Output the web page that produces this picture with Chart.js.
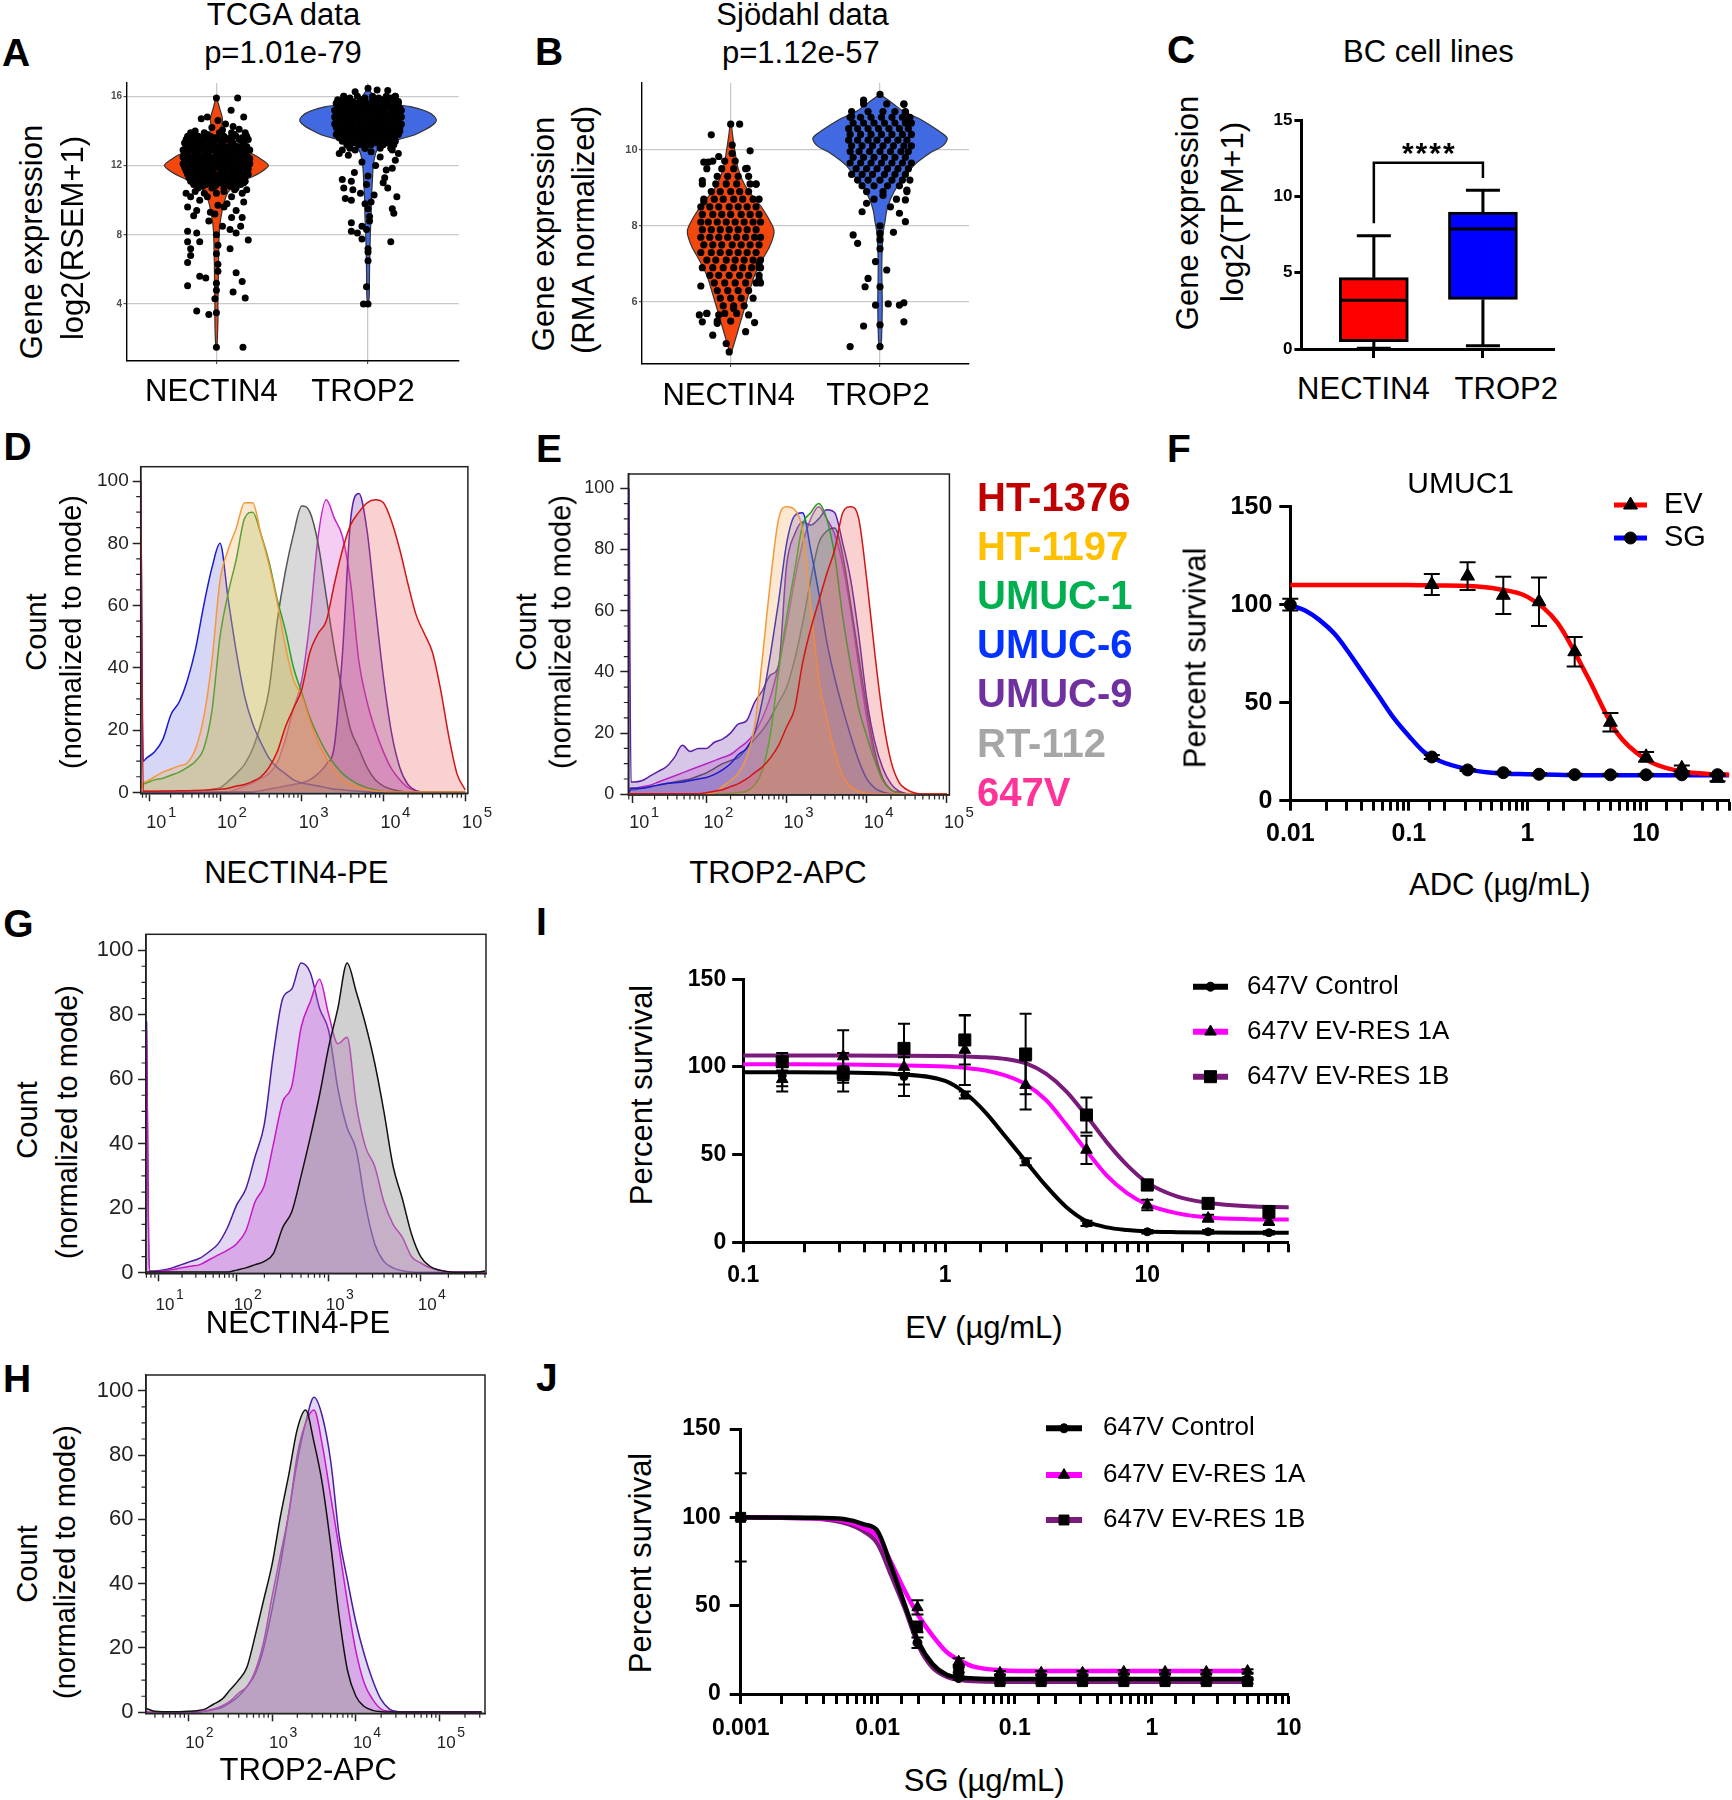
<!DOCTYPE html>
<html>
<head>
<meta charset="utf-8">
<title>NECTIN4 / TROP2 expression and ADC sensitivity</title>
<script src="https://cdn.jsdelivr.net/npm/chart.js@4.4.1/dist/chart.umd.min.js"></script>
<style>
html,body{margin:0;padding:0;background:#fff;}
#fig{position:relative;width:1732px;height:1800px;overflow:hidden;background:#fff;font-family:'Liberation Sans',Arial,Helvetica,sans-serif;color:#000;}
#fig canvas{position:absolute;}
.t{position:absolute;white-space:nowrap;line-height:1;}
</style>
</head>
<body>
<div id="fig"></div>
<script>
// ======================= DATA =======================
const geneCategories = ['NECTIN4', 'TROP2'];

// ---- Panel A: TCGA violin ----
const tcgaYTicks = [4, 8, 12, 16];
const tcgaNectinViolinY = [1.5,3,4,5,6,7,8,8.5,9,9.5,10,10.5,10.9,11.2,11.6,12.0,12.4,12.8,13.2,13.5,13.8,14.2,14.7,15.2,15.6,15.9];
const tcgaNectinViolinW = [0.004,0.01,0.01,0.012,0.013,0.015,0.018,0.022,0.03,0.04,0.055,0.08,0.13,0.2,0.29,0.343,0.29,0.21,0.13,0.08,0.05,0.035,0.04,0.025,0.012,0.003];
const tcgaTrop2ViolinY = [3.9,4.5,6,8,9,10,11,12,12.7,13.0,13.25,13.5,13.75,14.0,14.3,14.6,14.9,15.15,15.4,15.6,15.8,16.1,16.45];
const tcgaTrop2ViolinW = [0.003,0.008,0.01,0.015,0.02,0.022,0.028,0.035,0.05,0.07,0.1,0.2,0.3,0.36,0.42,0.45,0.43,0.38,0.28,0.13,0.06,0.03,0.003];
const tcgaNectinDotRows = [
 [13.9,[-0.17,-0.08,0.02,0.1,0.19]],
 [13.8,[-0.15,-0.06,0.03,0.12]],
 [13.7,[-0.19,-0.12,-0.04,0.05,0.13,0.2]],
 [13.6,[-0.16,-0.09,-0.01,0.09,0.17]],
 [13.5,[-0.2,-0.13,-0.06,0.0,0.07,0.15,0.21]],
 [13.4,[-0.18,-0.11,-0.04,0.03,0.1,0.17]],
 [13.3,[-0.21,-0.15,-0.09,-0.02,0.04,0.11,0.18]],
 [13.2,[-0.18,-0.11,-0.04,0.04,0.11,0.18]],
 [13.1,[-0.2,-0.14,-0.07,0.0,0.08,0.14,0.2]],
 [13.0,[-0.19,-0.13,-0.06,0.01,0.07,0.13,0.19]],
 [12.9,[-0.22,-0.16,-0.1,-0.03,0.03,0.1,0.16,0.22]],
 [12.8,[-0.19,-0.12,-0.05,0.02,0.09,0.17]],
 [12.7,[-0.21,-0.14,-0.07,0.0,0.06,0.13,0.19]],
 [12.6,[-0.2,-0.13,-0.06,0.01,0.07,0.12,0.18]],
 [12.5,[-0.22,-0.17,-0.1,-0.04,0.03,0.09,0.15,0.21]],
 [12.4,[-0.21,-0.16,-0.09,-0.02,0.04,0.11,0.17,0.22]],
 [12.3,[-0.2,-0.13,-0.06,0.01,0.07,0.14,0.2]],
 [12.2,[-0.19,-0.12,-0.05,0.02,0.08,0.14,0.2]],
 [12.1,[-0.22,-0.16,-0.09,-0.03,0.04,0.1,0.17,0.22]],
 [12.0,[-0.2,-0.13,-0.06,0.01,0.09,0.16]],
 [11.9,[-0.21,-0.14,-0.07,0.0,0.06,0.13,0.2]],
 [11.8,[-0.18,-0.11,-0.04,0.03,0.09,0.15,0.21]],
 [11.7,[-0.2,-0.15,-0.08,-0.02,0.05,0.11,0.18]],
 [11.6,[-0.17,-0.1,-0.03,0.04,0.12,0.19]],
 [11.5,[-0.19,-0.12,-0.05,0.02,0.09,0.16,0.21]],
 [11.4,[-0.16,-0.08,-0.01,0.06,0.13,0.19]],
 [11.3,[-0.18,-0.1,-0.03,0.04,0.11,0.18]],
 [11.2,[-0.14,-0.06,0.02,0.09,0.16]],
 [11.1,[-0.17,-0.09,-0.02,0.06,0.13,0.19]],
 [11.0,[-0.12,-0.04,0.03,0.11,0.18]],
 [10.9,[-0.15,-0.07,0.0,0.08,0.16]],
 [10.8,[-0.09,-0.01,0.09]],
 [10.7,[-0.12,-0.03,0.05,0.13]]
];
const tcgaNectinDotsExtra = [
 [0,15.9],[0.14,15.9],[0.097,15.2],[0.18,14.8],[-0.1,14.7],[-0.06,14.8],[0.01,14.6],[0.06,14.4],[0.11,14.25],[-0.03,14.2],[0.15,14.1],[-0.14,14.0],[0.04,14.05],
 [-0.17,10.2],[-0.11,10.0],[-0.06,10.2],[0.1,10.2],[0.17,10.4],[0.18,9.9],[-0.19,9.6],[-0.13,9.4],[0.13,9.4],[0.17,9.0],[-0.05,8.8],[0.16,8.5],[0.09,8.3],[0.04,8.5],
 [-0.19,8.2],[-0.13,8.1],[0.13,8.1],[-0.19,7.6],[-0.11,7.6],[0.21,7.7],[-0.17,7.2],[0.09,7.2],[-0.17,6.8],[-0.19,6.4],[0.01,6.3],[0.13,5.8],[-0.11,5.6],[-0.07,5.5],
 [-0.19,5.05],[0.17,5.3],[0.11,4.7],[0.19,4.35],[-0.13,3.6],[-0.05,3.4],[0,3.5],[0,1.5],[0.175,1.5],
 [0,10.4],[0.01,9.7],[-0.01,9.2],[0,8.0],[0.01,7.4],[0,6.9],[0.01,5.9],[0,5.2],[0,4.8],[-0.01,4.3],
 [-0.14,10.5],[0.05,10.5],[0.12,10.6],[-0.08,10.4],[0.2,10.6],[-0.2,10.4],[0.07,9.8],[-0.04,9.3],[0.1,9.0],[-0.15,9.1],[0.05,9.6]
];
const tcgaTrop2DotRows = [
 [16.0,[-0.16,-0.07,0.03,0.12,0.18]],
 [15.9,[-0.12,-0.02,0.07,0.15]],
 [15.8,[-0.2,-0.13,-0.05,0.03,0.1,0.17]],
 [15.7,[-0.17,-0.1,-0.02,0.06,0.13,0.2]],
 [15.6,[-0.21,-0.15,-0.08,-0.01,0.06,0.13,0.2]],
 [15.5,[-0.18,-0.11,-0.04,0.03,0.1,0.17]],
 [15.4,[-0.2,-0.14,-0.07,0.0,0.07,0.14,0.2]],
 [15.3,[-0.19,-0.12,-0.05,0.02,0.09,0.16,0.21]],
 [15.2,[-0.22,-0.16,-0.09,-0.02,0.05,0.11,0.18,0.22]],
 [15.1,[-0.18,-0.11,-0.04,0.03,0.1,0.17]],
 [15.0,[-0.21,-0.14,-0.07,0.0,0.07,0.14,0.21]],
 [14.9,[-0.19,-0.12,-0.05,0.02,0.08,0.14,0.2]],
 [14.8,[-0.22,-0.16,-0.09,-0.03,0.04,0.1,0.17,0.22]],
 [14.7,[-0.18,-0.11,-0.04,0.03,0.1,0.17]],
 [14.6,[-0.21,-0.14,-0.07,0.0,0.06,0.13,0.2]],
 [14.5,[-0.19,-0.12,-0.05,0.01,0.07,0.14,0.2]],
 [14.4,[-0.22,-0.16,-0.1,-0.03,0.03,0.1,0.16,0.22]],
 [14.3,[-0.18,-0.11,-0.04,0.03,0.1,0.17]],
 [14.2,[-0.21,-0.14,-0.07,0.0,0.07,0.14,0.21]],
 [14.1,[-0.17,-0.1,-0.03,0.04,0.11,0.18]],
 [14.0,[-0.2,-0.13,-0.06,0.01,0.08,0.15,0.21]],
 [13.9,[-0.18,-0.1,-0.03,0.04,0.1,0.17]],
 [13.8,[-0.21,-0.14,-0.07,0.0,0.06,0.13,0.2]],
 [13.7,[-0.16,-0.09,-0.02,0.05,0.12,0.18]],
 [13.6,[-0.19,-0.12,-0.05,0.02,0.09,0.16]],
 [13.5,[-0.14,-0.07,0.0,0.07,0.14]],
 [13.4,[-0.17,-0.1,-0.03,0.04,0.11,0.18]],
 [13.3,[-0.1,-0.02,0.06,0.13]],
 [13.2,[-0.14,-0.06,0.02,0.1,0.17]],
 [13.0,[-0.12,-0.02,0.08,0.15]]
];
const tcgaTrop2DotsExtra = [
 [0.06,16.37],[0,16.46],[-0.085,16.27],[0.13,16.33],[-0.16,16.0],[0.18,16.0],[-0.19,12.7],[-0.13,12.6],[-0.085,12.9],[0.16,12.9],[0.18,12.3],[0.16,11.85],
 [0.12,11.75],[-0.17,11.2],[-0.11,11.1],[0.11,11.3],[-0.16,10.7],[-0.1,10.6],[0.13,10.7],[-0.05,10.4],[0.19,10.2],[-0.15,10.1],[-0.11,10.0],[0.02,9.9],[-0.02,9.8],
 [0.16,9.5],[0.17,9.25],[0.01,9.06],[-0.04,8.5],[-0.11,8.7],[-0.01,8.3],[-0.11,8.2],[-0.07,8.1],[-0.04,7.75],[0.15,7.6],[0,6.5],[-0.01,5.0],[-0.03,4.0],[0,4.0],
 [0.08,12.5],[-0.04,12.2],[0.05,12.0],[-0.09,11.6],[0.1,11.0],[0.0,11.4],[0.04,10.3],[-0.01,10.9],[0.0,9.5],[0.01,8.8],[0,7.2],[0,7.0],[0.02,12.8],[-0.17,12.9],[0.2,12.7],[-0.02,13.0]
];

// ---- Panel B: Sjödahl violin ----
const sjoYTicks = [6, 8, 10];
const sjoNectinViolinY = [4.65,5.0,5.4,5.8,6.2,6.7,7.1,7.45,7.8,8.0,8.5,9.0,9.5,10.0,10.4,10.7];
const sjoNectinViolinW = [0.003,0.03,0.06,0.09,0.12,0.16,0.21,0.26,0.29,0.28,0.205,0.105,0.05,0.027,0.012,0.003];
const sjoTrop2ViolinY = [4.8,5.0,5.9,7.0,7.8,8.1,8.4,8.7,9.0,9.3,9.6,9.9,10.1,10.3,10.5,10.8,11.0,11.2,11.45];
const sjoTrop2ViolinW = [0.003,0.01,0.015,0.012,0.02,0.033,0.045,0.07,0.11,0.17,0.23,0.33,0.42,0.45,0.39,0.27,0.16,0.09,0.003];
const sjoNectinDotRows = [
 [9.9,[0.01]],
 [9.7,[-0.12,-0.04,0.03]],
 [9.5,[-0.16,-0.06,0.02,0.1]],
 [9.3,[-0.09,-0.02,0.05,0.12]],
 [9.1,[-0.19,-0.1,-0.03,0.04,0.13,0.17]],
 [8.9,[-0.13,-0.07,0.0,0.06,0.12]],
 [8.7,[-0.18,-0.11,-0.05,0.02,0.08,0.15,0.19]],
 [8.5,[-0.2,-0.14,-0.08,-0.01,0.05,0.11,0.17]],
 [8.3,[-0.19,-0.12,-0.06,0.0,0.07,0.13,0.19]],
 [8.1,[-0.2,-0.15,-0.09,-0.03,0.03,0.09,0.15,0.2]],
 [7.9,[-0.19,-0.13,-0.07,-0.01,0.05,0.11,0.17]],
 [7.7,[-0.2,-0.14,-0.08,-0.02,0.04,0.1,0.16,0.2]],
 [7.5,[-0.18,-0.12,-0.06,0.01,0.07,0.13,0.19]],
 [7.3,[-0.2,-0.13,-0.07,-0.01,0.05,0.11,0.17]],
 [7.1,[-0.16,-0.1,-0.03,0.03,0.09,0.15,0.2]],
 [6.9,[-0.19,-0.12,-0.05,0.02,0.08,0.14,0.19]],
 [6.7,[-0.14,-0.08,-0.01,0.06,0.12,0.19]],
 [6.5,[-0.11,-0.04,0.03,0.1,0.17]],
 [6.3,[-0.09,-0.02,0.05,0.12]],
 [6.1,[-0.07,0.0,0.07,0.15]],
 [5.9,[-0.05,0.02,0.09]],
 [5.7,[-0.16,-0.04,0.04]],
 [5.5,[-0.09,0.0]]
];
const sjoNectinDotsExtra = [
 [0,10.67],[0.06,10.67],[-0.13,10.39],[0.01,10.12],[0.13,9.97],[-0.18,9.67],[-0.15,9.67],[-0.08,9.82],[0.11,9.51],[0.17,9.09],[-0.19,9.19],[-0.18,8.63],
 [-0.2,6.42],[-0.21,5.66],[-0.19,5.48],[-0.16,5.7],[-0.12,5.13],[-0.08,5.66],[-0.03,4.91],[-0.01,4.69],[0.1,5.22],[0.12,5.66],[0.16,5.46],[-0.09,5.44],[0.02,5.83],
 [0.19,6.6],[0.2,6.9],[0.19,7.0],[0.2,6.5]
];
const sjoTrop2DotRows = [
 [11.2,[-0.11,0.045,0.16]],
 [11.0,[-0.19,-0.08,0.02,0.1,0.17]],
 [10.85,[-0.2,-0.13,-0.06,0.01,0.08,0.15,0.2]],
 [10.7,[-0.18,-0.11,-0.04,0.03,0.1,0.17,0.21]],
 [10.55,[-0.21,-0.15,-0.08,-0.01,0.06,0.13,0.19]],
 [10.4,[-0.2,-0.13,-0.06,0.01,0.08,0.15,0.21]],
 [10.25,[-0.21,-0.15,-0.08,-0.02,0.05,0.12,0.18]],
 [10.1,[-0.19,-0.12,-0.05,0.02,0.09,0.16,0.21]],
 [9.95,[-0.2,-0.14,-0.07,0.0,0.07,0.14,0.19]],
 [9.8,[-0.18,-0.11,-0.04,0.03,0.1,0.17]],
 [9.65,[-0.2,-0.13,-0.06,0.01,0.08,0.15,0.21]],
 [9.5,[-0.16,-0.09,-0.02,0.05,0.12,0.19]],
 [9.35,[-0.19,-0.12,-0.05,0.03,0.1,0.17]],
 [9.2,[-0.15,-0.08,0.0,0.08,0.15,0.2]],
 [9.05,[-0.12,-0.04,0.05,0.13]],
 [8.9,[-0.09,0.02,0.18]]
];
const sjoTrop2DotsExtra = [
 [-0.11,11.3],[0,11.45],[0.16,11.19],[0.17,10.98],[-0.19,10.87],[0.19,10.78],[0.18,8.94],[0.17,8.68],[0.11,8.7],[0.07,8.5],[-0.12,8.37],[-0.09,8.59],[0.13,8.33],
 [0.17,8.11],[0.09,7.83],[-0.18,7.76],[-0.15,7.54],[0,7.63],[0,7.4],[-0.03,7.06],[0.045,6.84],[-0.08,6.62],[-0.1,6.4],[0,6.4],[-0.03,5.92],[0.055,5.95],[0.13,5.92],
 [0.16,5.98],[0.16,5.48],[-0.11,5.37],[0,5.4],[-0.2,4.83],[0,4.83],[0.0,8.0],[0.0,7.8],[0.02,8.8],[-0.04,8.7]
];

// ---- Panel C: BC cell lines box plot ----
const cellYTicks = [0, 5, 10, 15];
const boxQ1 = [0.48, 3.25];
const boxQ3 = [4.67, 8.97];
const boxMedian = [3.2, 7.86];
const whiskerLow = [0.05, 0.22];
const whiskerHigh = [7.42, 10.4];
const sigBracket = [8.24, 12.2, 11.2];

// ---- Panels D/E: flow histograms ----
const cellLines = ['HT-1376', 'HT-1197', 'UMUC-1', 'UMUC-6', 'UMUC-9', 'RT-112', '647V'];
const cellLineTextColors = ['#c00000', '#ffc000', '#00b050', '#0433ff', '#7030a0', '#a6a6a6', '#ff3399'];
const flowYMajor = [0, 20, 40, 60, 80, 100];
const flowYMinor = [5,10,15,25,30,35,45,50,55,65,70,75,85,90,95];
const flowGridD = [1.03,1.06,1.1,1.2,1.3,1.4,1.5,1.6,1.7,1.8,1.9,2,2.1,2.2,2.3,2.4,2.5,2.6,2.7,2.8,2.9,3,3.1,3.2,3.3,3.4,3.5,3.6,3.7,3.8,3.9,4,4.1,4.2,4.3,4.4,4.5,4.6,4.7,4.8,4.9,5];
const dHT1376 = [100,0.3, 0.3,0.3,0.4,0.4,0.5,0.5,0.6,0.7,0.8,1, 1.3,2,2.5,3.5,5,8,13,21,27,33, 45,51,55,67,78,86,90,93,94,93, 87,78,67,57,51,45,33,18,6,0.8];
const dHT1197 = [0.5,3, 3.5,5,6.5,7.5,8.5,9.5,14,24,42,68, 78,85,93,93,83,73,61,47,36,31, 23,16,11,7,4,2.5,1.5,0.8,0.4,0.2, 0.1,0.1,0.1,0.1,0.1,0.1,0.1,0.1,0.1,0.1];
const dUMUC1 = [0.5,2.5, 3,4,4.5,5.5,6.5,8,10,14,26,50, 64,75,88,90,83,74,62,52,40,32, 24,18,13,9,6,4,2.5,1.5,0.8,0.3, 0.1,0.1,0.1,0.1,0.1,0.1,0.1,0.1,0.1,0.1];
const dUMUC6 = [100,10, 11,13,17,25,29,36,46,60,72,80, 62,45,31,22,16,11,8,6,4,3, 2.5,2,1.5,1,0.8,0.5,0.3,0.2,0.1,0.1, 0.1,0.1,0.1,0.1,0.1,0.1,0.1,0.1,0.1,0.1];
const dUMUC9 = [0.3,0.2, 0.2,0.2,0.2,0.2,0.2,0.2,0.2,0.2,0.2,0.2, 0.2,0.2,0.2,0.2,0.5,1,1.5,2,2.5,3, 4,6,9,15,45,88,96,84,60,37, 19,8,2.5,0.5,0.1,0.1,0.1,0.1,0.1,0.1];
const dRT112 = [0.3,0.3, 0.3,0.3,0.3,0.3,0.3,0.3,0.3,0.5,1,1.5, 3.5,6,9,14,22,33,55,71,83,92, 90,80,63,46,32,20,14,8,4,2, 1,0.4,0.1,0.1,0.1,0.1,0.1,0.1,0.1,0.1];
const d647V = [0.2,0.2, 0.2,0.2,0.2,0.2,0.2,0.2,0.2,0.2,0.2,0.2, 0.2,1,2,3,4.5,6,9.5,17,27,36, 55,82,94,88,82,67,42,29,20,13, 7.5,4,1.5,0.5,0.1,0.1,0.1,0.1,0.1,0.1];
const flowGridE = [1.035,1.06,1.1,1.2,1.3,1.4,1.5,1.6,1.7,1.8,1.9,2,2.1,2.2,2.3,2.4,2.5,2.6,2.7,2.8,2.9,3,3.1,3.2,3.3,3.4,3.5,3.6,3.7,3.8,3.9,4,4.1,4.2,4.3,4.4,4.5,4.6,4.7,4.8,4.9,5];
const eHT1376 = [0.5,0.2, 0.2,0.2,0.2,0.2,0.2,0.2,0.2,0.2,0.2,0.5, 1,1.5,2.5,3.5,5,7,9,12,16,22, 28,43,54,63,72,80,92,94,90,70, 46,25,11,4,1.5,0.4,0.1,0.1,0.1,0.1];
const eHT1197 = [0.1,0.1, 0.1,0.1,0.1,0.1,0.1,0.1,0.1,0.1,0.1,0.1, 0.5,2.5,4.5,7,12,22,45,70,90,94, 93,86,62,38,25,14,6,2.5,1,0.3, 0.1,0.1,0.1,0.1,0.1,0.1,0.1,0.1,0.1,0.1];
const eUMUC1 = [0.1,0.1, 0.1,0.1,0.1,0.1,0.1,0.1,0.1,0.1,0.1,0.1, 0.1,0.1,0.3,0.6,1,3,8,20,40,58, 73,88,92,95,90,78,58,42,28,19, 11,4.5,1.5,0.4,0.1,0.1,0.1,0.1,0.1,0.1];
const eUMUC6 = [0.5,2, 2,2,2.5,3,3.5,3.8,4,4.5,5,5.5, 6.5,8,10,13,15,20,31,46,63,82, 91,92,80,66,50,38,28,19,11,5, 2,0.7,0.2,0.1,0.1,0.1,0.1,0.1,0.1,0.1];
const eUMUC9 = [100,4, 4,4.5,6,7.5,9,12,16,14,15,15, 17,18,20,23,24,30,34,39,42,75, 85,89,88,90,93,92,82,70,52,31, 17,8.5,3.5,1,0.3,0.1,0.1,0.1,0.1,0.1];
const eRT112 = [1,1.5, 1.5,2,2.5,3,3.5,4,4.5,5,6,7, 8.5,10,11,12,15,18,21,25,30,35, 44,56,70,82,86,87,78,62,45,28, 14,5,1.5,0.5,0.1,0.1,0.1,0.1,0.1,0.1];
const e647V = [2,2, 2,2.5,3,4,5,6,7,8,9,10, 11,12,13,15,17,20,25,32,42,55, 70,82,90,94,90,85,75,60,42,25, 12,5,1.5,0.5,0.1,0.1,0.1,0.1,0.1,0.1];

// ---- Panels G/H: 647V control vs EV-resistant lines ----
const resLines = ['647V Control', '647V EV-RES 1A', '647V EV-RES 1B'];
const flowGridG = [1.02,1.05,1.1,1.2,1.3,1.4,1.5,1.6,1.7,1.8,1.9,2,2.1,2.2,2.3,2.4,2.5,2.6,2.7,2.8,2.9,3,3.1,3.2,3.3,3.4,3.5,3.6,3.7,3.8,3.9,4,4.1,4.2,4.3,4.4,4.5,4.6,4.7];
const gControl = [0.2,0.2, 0.2,0.2,0.2,0.2,0.2,0.2,0.2,0.2,0.2,0.8, 1.5,2.5,3.5,6,14,19,30,42,55,70, 82,96,87,77,65,50,33,23,12,5, 2,0.8,0.3,0.1,0.1,0.2,0.5];
const gRes1A = [75,0.3, 0.3,0.6,1,1.5,2,2.5,4,5.5,7,9, 13,22,27,40,53,58,76,84,91,80, 71,73,52,39,33,22,15,11,5,3, 1.5,0.8,0.3,0.1,0.1,0.1,0.1];
const gRes1B = [78,0.5, 0.5,0.8,1.5,2.5,3.5,4.5,6.5,9,14,21, 26,36,46,68,85,88,96,93,82,75, 57,45,38,21,9,3.5,1.5,0.6,0.2,0.1, 0.1,0.1,0.1,0.1,0.1,0.1,0.1];
const flowGridH = [1.5,1.6,1.7,1.8,1.9,2,2.1,2.2,2.3,2.4,2.5,2.6,2.7,2.8,2.9,3,3.1,3.2,3.3,3.4,3.5,3.6,3.7,3.8,3.9,4,4.1,4.2,4.3,4.4,4.5,4.6,4.7,4.8,4.9,5,5.1,5.2,5.3,5.4,5.5];
const hControl = [1.2,0.3,0.2,0.2,0.2,0.3, 0.5,1,2.5,4,7,10,14,24,35,46, 61,74,88,94,84,71,52,30,13,5, 1.8,0.6,0.2,0.1,0.1,0.1,0.1,0.1,0.1,0.1, 0.1,0.1,0.1,0.1,0.1];
const hRes1A = [0.2,0.2,0.2,0.2,0.2,0.2, 0.2,0.4,1,2,3.5,6,8,13,22,36, 49,62,80,90,94,83,67,51,34,19, 9,4,1,0.3,0.1,0.1,0.1,0.1,0.1,0.1, 0.1,0.1,0.1,0.1,0.1];
const hRes1B = [0.2,0.2,0.2,0.2,0.2,0.2, 0.2,0.3,0.8,1.5,3,5,8,12,20,32, 46,62,78,90,98,92,78,55,41,28, 18,10,4,1,0.2,0.1,0.1,0.1,0.1,0.1, 0.1,0.1,0.1,0.1,0.1];

// ---- Panel F: UMUC1 dose response ----
const survivalTicks = [0, 50, 100, 150];
const fDoses = [0.01, 0.156, 0.3125, 0.625, 1.25, 2.5, 5, 10, 20, 40];
const fEV = [null, 110.3, 114.6, 104.8, 101.5, 76, 40, 22.4, 16.5, 11.4];
const fEVErr = [0, 5.4, 7.1, 9.5, 12.4, 7.5, 4.7, 2.5, 1.5, 1.5];
const fSG = [100, 22.3, 15.7, 14.3, 13.5, 13.3, 13.2, 13.2, 13.2, 13.3];
const fSGErr = [3, 1, 0.5, 0.5, 0.5, 0.5, 0.5, 0.5, 0.5, 0.5];
const fCurveLogX = [-2,-1.875,-1.75,-1.625,-1.5,-1.375,-1.25,-1.125,-1,-0.875,-0.75,-0.5,-0.25,0,0.25,0.5,0.75,1,1.25,1.5,1.7];
const fCurveSG = [100,97,92,85,75,64,53,42,33,25,20.5,16,14,13.5,13.2,13,13,13,13,13,13];
const fCurveEV = [110,110,110,110,110,110,110,110,110,109.9,109.8,109.5,108,104,91,64,35,21,15.5,13.8,13.3];

// ---- Panel I: EV dose response ----
const iDoses = [0.156, 0.3125, 0.625, 1.25, 2.5, 5, 10, 20, 40];
const iCtrl = [95, 97, 94.5, 84, 46, 10.8, 6, 6, 5.5];
const iCtrlErr = [6, 11, 11, 2, 2, 1.5, 1, 1, 1];
const iRes1A = [93, 106, 100, 109.7, 89.7, 52.7, 21.3, 13.7, 11.8];
const iRes1AErr = [7, 15, 10, 20, 14, 8, 3, 2, 2];
const iRes1B = [103, 96.4, 110.6, 115.4, 107.4, 72.6, 32.7, 22.2, 17.5];
const iRes1BErr = [5, 4, 14, 14, 23, 10, 3, 2, 3];
const iCurveLogX = [-1,-0.75,-0.5,-0.25,0,0.1,0.2,0.3,0.4,0.5,0.6,0.7,0.8,0.9,1.0,1.15,1.3,1.5,1.7];
const iCurveCtrl = [97,97,96.8,96,92,85,74,60,46,32,20,12,8.5,7,6.2,5.8,5.6,5.5,5.5];
const iCurveRes1A = [101.5,101.5,101.4,101,100.3,99.5,98,95,90,81,67,52,38,28,21.5,16.5,14.2,13.2,13];
const iCurveRes1B = [106.5,106.5,106.5,106.4,106.2,106,105.5,104.5,102,96,86,72,57,44,34,26,22.5,20.5,20];

// ---- Panel J: SG dose response ----
const jDoses = [0.001, 0.0195, 0.039, 0.078, 0.156, 0.3125, 0.625, 1.25, 2.5, 5];
const jCtrl = [100, 29, 9, 8.5, 8.5, 8.5, 8.5, 8.5, 8.5, 8.5];
const jCtrlErr = [25, 3, 1, 0.5, 0.5, 0.5, 0.5, 0.5, 0.5, 0.5];
const jRes1A = [100, 49, 18.3, 12, 12, 12, 12.5, 12.5, 12.5, 13];
const jRes1AErr = [0, 4, 2, 1, 1, 1, 1, 1, 1, 1];
const jRes1B = [100, 38, 13.6, 7, 7, 7, 7, 7, 7, 7];
const jRes1BErr = [0, 3, 1.5, 1, 1, 1, 1, 1, 1, 1];
const jCurveLogX = [-3,-2.5,-2.25,-2.1,-2.0,-1.9,-1.8,-1.7,-1.6,-1.5,-1.4,-1.3,-1.1,-0.8,0,0.7];
const jCurveCtrl = [100,99.8,99,96,92,72,50,29,17,11,9.3,8.8,8.5,8.5,8.5,8.5];
const jCurveRes1A = [100,99.5,98,94,89,74,58,44,33,24,19,15.5,13.5,13,13,13];
const jCurveRes1B = [100,99.5,97,92,85,67,48,27,15,10,8,7.3,7,7,7,7];

// ======================= HELPERS =======================
const fig = document.getElementById('fig');
const FONT = "'Liberation Sans', Arial, Helvetica, sans-serif";
Chart.defaults.font.family = FONT;
Chart.defaults.color = '#000';
Chart.defaults.animation = false;

function addText(str, x, baseline, size, o = {}) {
  const d = document.createElement('div');
  d.className = 't'; d.textContent = str;
  d.style.fontSize = size + 'px';
  d.style.fontWeight = o.bold ? '700' : '400';
  if (o.color) d.style.color = o.color;
  if (o.ls) d.style.letterSpacing = o.ls;
  d.style.top = (baseline - 0.8466 * size) + 'px';
  d.style.left = x + 'px';
  const al = o.align || 'center';
  if (al === 'center') d.style.transform = 'translateX(-50%)';
  else if (al === 'right') d.style.transform = 'translateX(-100%)';
  fig.appendChild(d);
}
function addVText(str, cx, cy, size, o = {}) {
  const d = document.createElement('div');
  d.className = 't'; d.textContent = str;
  d.style.fontSize = size + 'px';
  d.style.fontWeight = o.bold ? '700' : '400';
  d.style.left = cx + 'px'; d.style.top = cy + 'px';
  d.style.transform = 'translate(-50%,-50%) rotate(-90deg)';
  fig.appendChild(d);
}

function makeChart(box, m, config) {
  const [x0, y0, x1, y1] = box;
  const cl = Math.round(x0 - m.l), ct = Math.round(y0 - m.t);
  const cr = Math.round(x1 + m.r), cb = Math.round(y1 + m.b);
  const W = cr - cl, H = cb - ct;
  const L = x0 - cl, T = y0 - ct, R = cr - x1, B = cb - y1;
  const c = document.createElement('canvas');
  c.width = W; c.height = H;
  c.style.left = cl + 'px'; c.style.top = ct + 'px';
  c.style.width = W + 'px'; c.style.height = H + 'px';
  fig.appendChild(c);
  const o = config.options;
  o.responsive = false; o.maintainAspectRatio = false; o.animation = false; o.devicePixelRatio = 1; o.events = [];
  o.layout = { padding: { left: 0, top: T, right: R, bottom: 0 }, autoPadding: false };
  o.plugins = Object.assign({ legend: { display: false }, tooltip: { enabled: false } }, o.plugins || {});
  o.scales.x.afterFit = s => { s.height = B; s.paddingLeft = 0; s.paddingRight = 0; };
  o.scales.y.afterFit = s => { s.width = L; s.paddingTop = 0; s.paddingBottom = 0; };
  return new Chart(c, config);
}

const framePlugin = {
  id: 'frame',
  afterDraw(chart) {
    const { ctx, chartArea: a } = chart;
    ctx.save(); ctx.strokeStyle = '#222'; ctx.lineWidth = 1.5;
    ctx.strokeRect(a.left, a.top, a.right - a.left, a.bottom - a.top);
    ctx.restore();
  }
};
function minorTickPlugin(xMinor, yMinor, len) {
  return {
    id: 'minorTicks',
    afterDraw(chart) {
      const { ctx, chartArea: a, scales: { x, y } } = chart;
      ctx.save(); ctx.strokeStyle = '#222'; ctx.lineWidth = 1.2; ctx.beginPath();
      xMinor.forEach(v => { const px = x.getPixelForValue(v); if (px < a.left - 0.5 || px > a.right + 0.5) return; ctx.moveTo(px, a.bottom); ctx.lineTo(px, a.bottom + len); });
      yMinor.forEach(v => { const py = y.getPixelForValue(v); ctx.moveTo(a.left, py); ctx.lineTo(a.left - len, py); });
      ctx.stroke(); ctx.restore();
    }
  };
}
// "10" with a raised exponent, FlowJo style, drawn at the scale's own tick positions
function decadeLabelPlugin(items, o) {
  return {
    id: 'decadeLabels',
    afterDraw(chart) {
      const { ctx, chartArea: a, scales: { x } } = chart;
      ctx.save(); ctx.fillStyle = '#222'; ctx.textBaseline = 'alphabetic'; ctx.textAlign = 'left';
      items.forEach(([v, e]) => {
        const left = x.getPixelForValue(v) - 3;
        ctx.font = o.base + 'px ' + FONT;
        ctx.fillText('10', left, a.bottom + o.dy);
        const w = ctx.measureText('10').width;
        ctx.font = o.exp + 'px ' + FONT;
        ctx.fillText(String(e), left + w + 1.5, a.bottom + o.dy - o.raise);
      });
      ctx.restore();
    }
  };
}
function decadeMinor(decPos, min, max) {
  const keys = Object.keys(decPos).map(Number).sort((a, b) => a - b);
  const out = [];
  for (let i = -1; i < keys.length; i++) {
    let a, b;
    if (i === -1) { b = decPos[keys[0]]; a = b - (decPos[keys[1]] - decPos[keys[0]]); }
    else if (i === keys.length - 1) { a = decPos[keys[i]]; b = a + (decPos[keys[i]] - decPos[keys[i - 1]]); }
    else { a = decPos[keys[i]]; b = decPos[keys[i + 1]]; }
    for (let k = 2; k <= 9; k++) { const v = a + Math.log10(k) * (b - a); if (v >= min && v <= max) out.push(v); }
  }
  return out;
}
const errorBarPlugin = {
  id: 'errorBars',
  afterDatasetsDraw(chart) {
    const ctx = chart.ctx;
    chart.data.datasets.forEach((ds, i) => {
      if (!ds.errors) return;
      const meta = chart.getDatasetMeta(i);
      const xs = chart.scales[meta.xAxisID], ys = chart.scales[meta.yAxisID];
      const cap = ds.errCap || 7;
      ctx.save(); ctx.strokeStyle = '#000'; ctx.lineWidth = 2;
      ds.data.forEach((p, j) => {
        const e = ds.errors[j];
        if (!e || p.y == null) return;
        const x = xs.getPixelForValue(p.x);
        const yt = ys.getPixelForValue(p.y + e), yb = ys.getPixelForValue(p.y - e);
        ctx.beginPath();
        ctx.moveTo(x, yb); ctx.lineTo(x, yt);
        ctx.moveTo(x - cap, yt); ctx.lineTo(x + cap, yt);
        ctx.moveTo(x - cap, yb); ctx.lineTo(x + cap, yb);
        ctx.stroke();
      });
      ctx.restore();
    });
  }
};
function legendPlugin(cfg) {
  return {
    id: 'pageLegend',
    afterDraw(chart) {
      const ctx = chart.ctx;
      const ox = parseFloat(chart.canvas.style.left), oy = parseFloat(chart.canvas.style.top);
      ctx.save();
      cfg.items.forEach(it => {
        const y = it.y - oy;
        ctx.strokeStyle = it.color; ctx.lineWidth = cfg.lineWidth; ctx.lineCap = 'butt';
        ctx.beginPath(); ctx.moveTo(cfg.x1 - ox, y); ctx.lineTo(cfg.x2 - ox, y); ctx.stroke();
        ctx.fillStyle = '#000'; ctx.strokeStyle = '#000'; ctx.lineWidth = 1;
        Chart.helpers.drawPoint(ctx, { pointStyle: it.style, radius: it.r, rotation: 0, borderWidth: 1 }, (cfg.x1 + cfg.x2) / 2 - ox, y);
        ctx.fillStyle = '#000'; ctx.font = cfg.font; ctx.textBaseline = 'middle'; ctx.textAlign = 'left';
        ctx.fillText(it.text, cfg.tx - ox, y);
      });
      ctx.restore();
    }
  };
}
function boxWhiskerPlugin() {
  return {
    id: 'boxWhisker',
    afterDatasetsDraw(chart) {
      const { ctx, scales: { x, y } } = chart;
      ctx.save(); ctx.strokeStyle = '#000'; ctx.lineWidth = 3; ctx.lineCap = 'butt';
      [1, 2].forEach((cv, i) => {
        const px = x.getPixelForValue(cv), half = 33, cap = 17;
        const yq1 = y.getPixelForValue(boxQ1[i]), yq3 = y.getPixelForValue(boxQ3[i]);
        const ylo = y.getPixelForValue(whiskerLow[i]), yhi = y.getPixelForValue(whiskerHigh[i]);
        const ymed = y.getPixelForValue(boxMedian[i]);
        ctx.beginPath();
        ctx.moveTo(px, yq3); ctx.lineTo(px, yhi);
        ctx.moveTo(px - cap, yhi); ctx.lineTo(px + cap, yhi);
        ctx.moveTo(px, yq1); ctx.lineTo(px, ylo);
        ctx.moveTo(px - cap, ylo); ctx.lineTo(px + cap, ylo);
        ctx.moveTo(px - half, ymed); ctx.lineTo(px + half, ymed);
        ctx.stroke();
      });
      ctx.lineWidth = 2.5; ctx.beginPath();
      ctx.moveTo(x.getPixelForValue(1), y.getPixelForValue(sigBracket[0]));
      ctx.lineTo(x.getPixelForValue(1), y.getPixelForValue(sigBracket[1]));
      ctx.lineTo(x.getPixelForValue(2), y.getPixelForValue(sigBracket[1]));
      ctx.lineTo(x.getPixelForValue(2), y.getPixelForValue(sigBracket[2]));
      ctx.stroke();
      ctx.restore();
    }
  };
}

function violinPoints(cx, ys, ws) {
  const pts = [];
  for (let i = 0; i < ys.length; i++) pts.push({ x: cx + ws[i], y: ys[i] });
  for (let i = ys.length - 1; i >= 0; i--) pts.push({ x: cx - ws[i], y: ys[i] });
  pts.push({ x: pts[0].x, y: pts[0].y });
  return pts;
}
function dotPoints(cx, rows, extra) {
  const pts = [];
  rows.forEach(([y, dxs]) => dxs.forEach(dx => pts.push({ x: cx + dx, y })));
  extra.forEach(([dx, y]) => pts.push({ x: cx + dx, y }));
  return pts;
}

function violinChart(box, m, cfg) {
  const datasets = [];
  cfg.violins.forEach((v, i) => {
    datasets.push({ type: 'line', data: violinPoints(i + 1, v.y, v.w), borderColor: '#333', borderWidth: 1.2, backgroundColor: v.color, fill: 'shape', pointRadius: 0, tension: 0.3, order: 2 });
    datasets.push({ type: 'scatter', data: dotPoints(i + 1, v.rows, v.extra), pointRadius: cfg.dotR, backgroundColor: '#000', borderWidth: 0, order: 1 });
  });
  const gridOpts = { color: '#c9c9c9', lineWidth: 1.3, tickLength: 3, tickColor: '#333', tickWidth: 1 };
  return makeChart(box, m, {
    type: 'scatter', data: { datasets },
    options: { scales: {
      x: { type: 'linear', min: cfg.xmin, max: cfg.xmax,
           afterBuildTicks: s => { s.ticks = [{ value: 1 }, { value: 2 }]; },
           ticks: { callback: (v, i) => geneCategories[i], font: { size: 31 }, color: '#000', padding: cfg.xPad, autoSkip: false, maxRotation: 0, labelOffset: cfg.xOff },
           grid: gridOpts, border: { display: true, color: '#000', width: 1.4 } },
      y: { type: 'linear', min: cfg.ymin, max: cfg.ymax,
           afterBuildTicks: s => { s.ticks = cfg.yticks.map(v => ({ value: v })); },
           ticks: { font: { size: cfg.yFont, weight: 'bold' }, color: '#4d4d4d', padding: 1.5 },
           grid: gridOpts, border: { display: true, color: '#000', width: 1.4 } }
    } }
  });
}

function flowChart(box, m, grid, series, ax) {
  const datasets = series.map(s => ({
    type: 'line', data: grid.map((x, i) => ({ x, y: s.values[i] })),
    borderColor: s.line, backgroundColor: s.fill, borderWidth: 1.5, fill: 'origin',
    pointRadius: 0, cubicInterpolationMode: 'monotone'
  }));
  const keys = Object.keys(ax.dec).map(Number).filter(k => ax.dec[k] >= ax.min && ax.dec[k] <= ax.max);
  const majorVals = keys.map(k => ax.dec[k]);
  const tickGrid = { drawOnChartArea: false, tickLength: 8, tickWidth: 1.5, tickColor: '#222' };
  return makeChart(box, m, {
    type: 'line', data: { datasets },
    options: { scales: {
      x: { type: 'linear', min: ax.min, max: ax.max,
           afterBuildTicks: s => { s.ticks = majorVals.map(v => ({ value: v })); },
           ticks: { autoSkip: false, maxRotation: 0, callback: () => '', font: { size: ax.xFont }, color: '#222', padding: 4 },
           grid: tickGrid, border: { display: true, color: '#222', width: 1.5 } },
      y: { type: 'linear', min: ax.ymin, max: ax.ymax,
           afterBuildTicks: s => { s.ticks = flowYMajor.map(v => ({ value: v })); },
           ticks: { font: { size: ax.yFont }, color: '#222', padding: ax.yPad },
           grid: tickGrid, border: { display: true, color: '#222', width: 1.5 } }
    } },
    plugins: [framePlugin, minorTickPlugin(decadeMinor(ax.dec, ax.min, ax.max), flowYMinor, 4.5),
              decadeLabelPlugin(keys.map(k => [ax.dec[k], k]), { base: ax.xFont, exp: ax.expFont, dy: ax.labelDy, raise: ax.raise })]
  });
}

function doseChart(box, m, cfg) {
  const datasets = [];
  cfg.points.forEach(p => datasets.push({
    type: 'scatter', data: p.x.map((x, i) => ({ x, y: p.y[i] })), pointStyle: p.style, pointRadius: p.r,
    backgroundColor: '#000', borderColor: '#000', borderWidth: 1, errors: p.err, errCap: cfg.cap, clip: false, order: 1
  }));
  cfg.curves.forEach(c => datasets.push({
    type: 'line', data: c.logx.map((lx, i) => ({ x: Math.pow(10, lx), y: c.y[i] })), borderColor: c.color, borderWidth: c.width,
    pointRadius: 0, fill: false, cubicInterpolationMode: 'monotone', order: 2, clip: false
  }));
  const fmt = v => { const l = Math.log10(v); return Math.abs(l - Math.round(l)) < 1e-6 ? String(Number(v.toPrecision(1))) : ''; };
  return makeChart(box, m, {
    type: 'line', data: { datasets },
    options: { scales: {
      x: { type: 'logarithmic', min: cfg.xmin, max: cfg.xmax,
           ticks: { autoSkip: false, maxRotation: 0, callback: fmt, font: { size: cfg.font, weight: 'bold' }, color: '#000', padding: cfg.xPad },
           grid: { drawOnChartArea: false, tickLength: 10, tickWidth: 3, tickColor: '#000' }, border: { display: true, color: '#000', width: 3 } },
      y: { type: 'linear', min: 0, max: 150,
           afterBuildTicks: s => { s.ticks = survivalTicks.map(v => ({ value: v })); },
           ticks: { font: { size: cfg.font, weight: 'bold' }, color: '#000', padding: cfg.yPad },
           grid: { drawOnChartArea: false, tickLength: 11, tickWidth: 3, tickColor: '#000' }, border: { display: true, color: '#000', width: 3 } }
    } },
    plugins: [errorBarPlugin, legendPlugin(cfg.legend)]
  });
}

// ======================= PANELS =======================
// A
violinChart([126.5, 83, 458.7, 361], { l: 45, t: 6, r: 12, b: 50 }, {
  xmin: 0.407, xmax: 2.598, ymin: 0.707, ymax: 16.77, yticks: tcgaYTicks, yFont: 10, xPad: 10, xOff: -5, dotR: 3.5,
  violins: [
    { y: tcgaNectinViolinY, w: tcgaNectinViolinW, color: '#f4470d', rows: tcgaNectinDotRows, extra: tcgaNectinDotsExtra },
    { y: tcgaTrop2ViolinY, w: tcgaTrop2ViolinW, color: '#4169e1', rows: tcgaTrop2DotRows, extra: tcgaTrop2DotsExtra }
  ]
});
// B
violinChart([642, 83, 969, 364], { l: 40, t: 6, r: 12, b: 50 }, {
  xmin: 0.406, xmax: 2.596, ymin: 4.372, ymax: 11.75, yticks: sjoYTicks, yFont: 11, xPad: 11, xOff: -2, dotR: 3.6,
  violins: [
    { y: sjoNectinViolinY, w: sjoNectinViolinW, color: '#f4470d', rows: sjoNectinDotRows, extra: sjoNectinDotsExtra },
    { y: sjoTrop2ViolinY, w: sjoTrop2ViolinW, color: '#4169e1', rows: sjoTrop2DotRows, extra: sjoTrop2DotsExtra }
  ]
});
// C
makeChart([1301.4, 120, 1554.6, 349], { l: 40, t: 22, r: 10, b: 20 }, {
  type: 'bar',
  data: { datasets: [{ data: [{ x: 1, y: [boxQ1[0], boxQ3[0]] }, { x: 2, y: [boxQ1[1], boxQ3[1]] }],
    backgroundColor: ['#ff0000', '#0000ff'], borderColor: '#000', borderWidth: 3, borderSkipped: false, barThickness: 69 }] },
  options: { scales: {
    x: { type: 'linear', offset: false, min: 0.336, max: 2.657,
         afterBuildTicks: s => { s.ticks = [{ value: 1 }, { value: 2 }]; },
         ticks: { callback: () => '', autoSkip: false },
         grid: { drawOnChartArea: false, offset: false, tickLength: 9, tickWidth: 3, tickColor: '#000' },
         border: { display: true, color: '#000', width: 3 } },
    y: { type: 'linear', min: 0, max: 15,
         afterBuildTicks: s => { s.ticks = cellYTicks.map(v => ({ value: v })); },
         ticks: { font: { size: 17, weight: 'bold' }, color: '#000', padding: 2 },
         grid: { drawOnChartArea: false, tickLength: 7, tickWidth: 3, tickColor: '#000' },
         border: { display: true, color: '#000', width: 3 } }
  } },
  plugins: [boxWhiskerPlugin()]
});

// D
const lineColD = { 'HT-1376': ['#d21414', 'rgba(235,90,90,0.28)'], 'HT-1197': ['#f29a3a', 'rgba(245,165,70,0.25)'], 'UMUC-1': ['#2aa02a', 'rgba(150,205,90,0.28)'],
  'UMUC-6': ['#1a1ad0', 'rgba(90,90,220,0.25)'], 'UMUC-9': ['#5a1fa8', 'rgba(110,50,170,0.28)'], 'RT-112': ['#555555', 'rgba(140,140,140,0.33)'], '647V': ['#cc22cc', 'rgba(210,60,210,0.26)'] };
const dValues = [dHT1376, dHT1197, dUMUC1, dUMUC6, dUMUC9, dRT112, d647V];
const eValues = [eHT1376, eHT1197, eUMUC1, eUMUC6, eUMUC9, eRT112, e647V];
flowChart([140.7, 466.7, 467.9, 793.3], { l: 52, t: 6, r: 30, b: 45 }, flowGridD,
  cellLines.map((n, i) => ({ values: dValues[i], line: lineColD[n][0], fill: lineColD[n][1] })),
  { dec: { 1: 1.135, 2: 2, 3: 3, 4: 4, 5: 5 }, min: 1.029, max: 5.034, ymin: -0.32, ymax: 104.6, xFont: 18, expFont: 15, labelDy: 35, raise: 11.5, yFont: 19, yPad: 4 });
// E
flowChart([628.3, 474, 949.4, 795], { l: 52, t: 6, r: 30, b: 45 }, flowGridE,
  cellLines.map((n, i) => ({ values: eValues[i], line: lineColD[n][0], fill: lineColD[n][1] })),
  { dec: { 1: 1.075, 2: 2, 3: 3, 4: 4, 5: 5 }, min: 1.026, max: 5.03, ymin: -0.23, ymax: 104.67, xFont: 18, expFont: 15, labelDy: 33.3, raise: 11.5, yFont: 18, yPad: 6 });
// G
const resCols = [['#111111', 'rgba(150,150,150,0.45)'], ['#c818c8', 'rgba(200,90,210,0.35)'], ['#4a1ca0', 'rgba(170,140,220,0.35)']];
const gValues = [gControl, gRes1A, gRes1B];
const hValues = [hControl, hRes1A, hRes1B];
flowChart([146, 934.3, 486, 1273.3], { l: 55, t: 6, r: 12, b: 45 }, flowGridG,
  resLines.map((n, i) => ({ values: gValues[i], line: resCols[i][0], fill: resCols[i][1] })),
  { dec: { 1: 1.15, 2: 2, 3: 3, 4: 4 }, min: 1.014, max: 4.71, ymin: -0.19, ymax: 104.9, xFont: 17, expFont: 14, labelDy: 36.7, raise: 11, yFont: 22, yPad: 4.5 });
// H
flowChart([146, 1375, 485, 1713.3], { l: 55, t: 6, r: 20, b: 45 }, flowGridH,
  resLines.map((n, i) => ({ values: hValues[i], line: resCols[i][0], fill: resCols[i][1] })),
  { dec: { 1: 1, 2: 2, 3: 3, 4: 4, 5: 5 }, min: 1.496, max: 5.54, ymin: -0.31, ymax: 104.9, xFont: 17, expFont: 14, labelDy: 35, raise: 11, yFont: 22, yPad: 4.5 });

// F
doseChart([1290.3, 506.7, 1729, 800.7], { l: 80, t: 42, r: 3, b: 50 }, {
  xmin: 0.01, xmax: 50, font: 25, xPad: 8, yPad: 7, cap: 8,
  points: [
    { x: fDoses, y: fEV, err: fEVErr, style: 'triangle', r: 8 },
    { x: fDoses, y: fSG, err: fSGErr, style: 'circle', r: 6 }
  ],
  curves: [
    { logx: fCurveLogX, y: fCurveEV, color: '#ff0000', width: 4.5 },
    { logx: fCurveLogX, y: fCurveSG, color: '#0000ff', width: 4.5 }
  ],
  legend: { x1: 1614, x2: 1647, tx: 1664, lineWidth: 5, font: "29px " + FONT,
    items: [{ text: 'EV', color: '#ff0000', style: 'triangle', r: 8, y: 505 }, { text: 'SG', color: '#0000ff', style: 'circle', r: 6, y: 538 }] }
});
// I
doseChart([743.2, 979.3, 1288.5, 1242.3], { l: 70, t: 20, r: 190, b: 50 }, {
  xmin: 0.1, xmax: 50, font: 23, xPad: 10, yPad: 6, cap: 6,
  points: [
    { x: iDoses, y: iRes1B, err: iRes1BErr, style: 'rect', r: 8.5 },
    { x: iDoses, y: iRes1A, err: iRes1AErr, style: 'triangle', r: 6.7 },
    { x: iDoses, y: iCtrl, err: iCtrlErr, style: 'circle', r: 4 }
  ],
  curves: [
    { logx: iCurveLogX, y: iCurveCtrl, color: '#000000', width: 4 },
    { logx: iCurveLogX, y: iCurveRes1A, color: '#ff00ff', width: 4 },
    { logx: iCurveLogX, y: iCurveRes1B, color: '#7a1a7a', width: 4 }
  ],
  legend: { x1: 1193, x2: 1228, tx: 1247, lineWidth: 6, font: "26px " + FONT,
    items: [{ text: resLines[0], color: '#000000', style: 'circle', r: 4.5, y: 986.7 },
            { text: resLines[1], color: '#ff00ff', style: 'triangle', r: 6.7, y: 1031.7 },
            { text: resLines[2], color: '#7a1a7a', style: 'rect', r: 8.5, y: 1076.7 }] }
});
// J
doseChart([740.7, 1429, 1288.8, 1694], { l: 70, t: 20, r: 40, b: 50 }, {
  xmin: 0.001, xmax: 10, font: 23, xPad: 11, yPad: 9, cap: 6,
  points: [
    { x: jDoses, y: jRes1B, err: jRes1BErr, style: 'rect', r: 7 },
    { x: jDoses, y: jRes1A, err: jRes1AErr, style: 'triangle', r: 6.5 },
    { x: jDoses, y: jCtrl, err: jCtrlErr, style: 'circle', r: 4.5 }
  ],
  curves: [
    { logx: jCurveLogX, y: jCurveCtrl, color: '#000000', width: 4.5 },
    { logx: jCurveLogX, y: jCurveRes1A, color: '#ff00ff', width: 4.5 },
    { logx: jCurveLogX, y: jCurveRes1B, color: '#7a1a7a', width: 4.5 }
  ],
  legend: { x1: 1046, x2: 1082, tx: 1103, lineWidth: 6, font: "26px " + FONT,
    items: [{ text: resLines[0], color: '#000000', style: 'circle', r: 4.5, y: 1428.3 },
            { text: resLines[1], color: '#ff00ff', style: 'triangle', r: 6.5, y: 1475 },
            { text: resLines[2], color: '#7a1a7a', style: 'rect', r: 7, y: 1520 }] }
});

// ======================= TEXT =======================
[['A', 2, 66], ['B', 535, 65], ['C', 1167, 63], ['D', 3.6, 460], ['E', 536, 462], ['F', 1167, 462],
 ['G', 3.3, 937], ['H', 3, 1392], ['I', 536, 935], ['J', 536, 1391]].forEach(([s, x, b]) => addText(s, x, b, 39, { bold: true, align: 'left' }));
addText('TCGA data', 283.5, 25.5, 31);
addText('p=1.01e-79', 283, 63.3, 31);
addText('Sjödahl data', 802.5, 25.5, 31);
addText('p=1.12e-57', 800.8, 63.3, 31);
addText('BC cell lines', 1428.4, 62, 31);
addText('UMUC1', 1460.7, 493.3, 30);
addVText('Gene expression', 31.4, 241.7, 31); addVText('log2(RSEM+1)', 72, 238, 31);
addVText('Gene expression', 543.3, 234, 31); addVText('(RMA normalized)', 583.3, 230, 31);
addVText('Gene expression', 1187, 212.5, 31); addVText('log2(TPM+1)', 1231.7, 211.7, 31);
addVText('Count', 35.7, 632, 29); addVText('(normalized to mode)', 71.4, 632, 29);
addVText('Count', 526, 632, 29); addVText('(normalized to mode)', 560.8, 632, 29);
addVText('Percent survival', 1194.5, 658, 31);
addVText('Count', 26.7, 1120, 29); addVText('(normalized to mode)', 66.7, 1121.7, 29);
addVText('Count', 26.7, 1564, 29); addVText('(normalized to mode)', 65, 1561.7, 29);
addVText('Percent survival', 641, 1095, 31);
addVText('Percent survival', 640.3, 1563.3, 31);
addText('NECTIN4-PE', 296.4, 883, 31);
addText('TROP2-APC', 778, 883, 31);
addText('ADC (µg/mL)', 1499.8, 895, 31);
addText('NECTIN4-PE', 298, 1333, 31);
addText('TROP2-APC', 308.3, 1780, 31);
addText('EV (µg/mL)', 983.9, 1338, 31);
addText('SG (µg/mL)', 984.2, 1791.5, 31);
addText(geneCategories[0], 1363.4, 399, 31);
addText(geneCategories[1], 1506.3, 399, 31);
addText('****', 1429.3, 163.5, 30, { bold: true, ls: '2px' });
const legendBaselines = [510.7, 560, 609, 658, 707, 756.7, 805.7];
cellLines.forEach((n, i) => addText(n, 977, legendBaselines[i], 40, { bold: true, align: 'left', color: cellLineTextColors[i] }));
</script>
</body>
</html>
